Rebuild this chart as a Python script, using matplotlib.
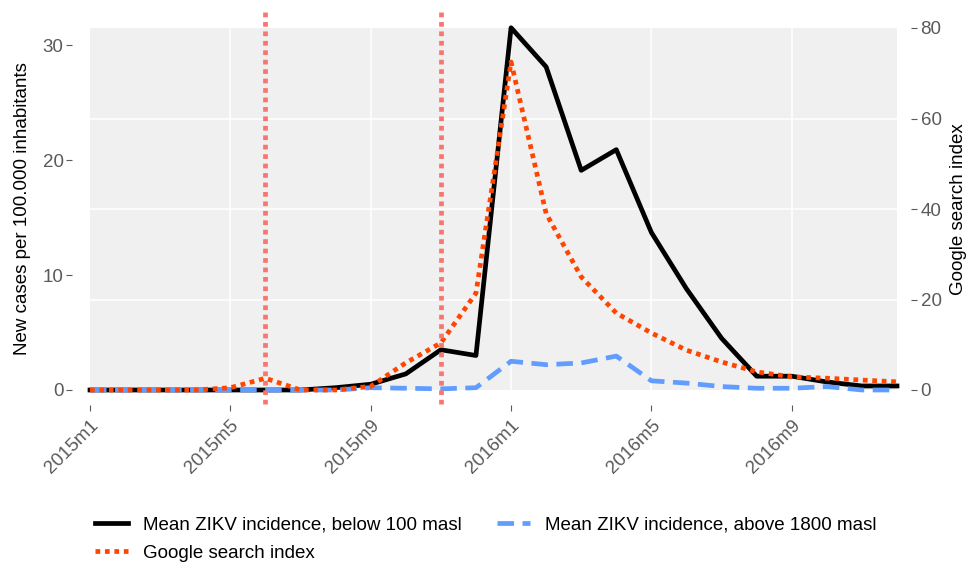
import matplotlib
matplotlib.use('Agg')
import matplotlib.pyplot as plt
import matplotlib.transforms as mtransforms
import numpy as np

plt.rcParams['font.family'] = ['Liberation Sans', 'DejaVu Sans']

months = ['2015m1', '2015m2', '2015m3', '2015m4', '2015m5', '2015m6', '2015m7', '2015m8',
          '2015m9', '2015m10', '2015m11', '2015m12', '2016m1', '2016m2', '2016m3', '2016m4',
          '2016m5', '2016m6', '2016m7', '2016m8', '2016m9', '2016m10', '2016m11', '2016m12']
tick_labels = ['2015m1', '2015m5', '2015m9', '2016m1', '2016m5', '2016m9']

# incidence per 100.000 (left axis)
below_100 = [0, 0, 0, 0, 0, 0, 0, 0.2, 0.5, 1.4, 3.5, 3.0,
             31.5, 28.1, 19.1, 20.9, 13.7, 8.8, 4.5, 1.2, 1.2, 0.7, 0.35, 0.35]
above_1800 = [0, 0, 0, 0, 0, 0, 0, 0, 0.2, 0.15, 0.1, 0.2,
              2.5, 2.2, 2.35, 2.95, 0.8, 0.6, 0.3, 0.15, 0.15, 0.3, 0, 0]
# google search index (right axis)
google = [0, 0, 0, 0, 0.5, 2.6, 0, 0, 0.8, 6.0, 10.4, 21.4,
          72.5, 39, 25, 17, 12.6, 8.8, 6.2, 4.0, 2.9, 2.6, 2.2, 1.8]
event_months = ['2015m6', '2015m11']

x = np.arange(len(months))
grey = '#5a5a5a'
fs = 13.5
ltop, rtop = 31.48, 80

fig = plt.figure(figsize=(9.73, 5.62), dpi=100)
ax = fig.add_axes([90 / 973, 1 - 390 / 562, 807 / 973, 362 / 562])
ax.set_facecolor('#f0f0f0')
ax2 = ax.twinx()

ax.set_xlim(0, len(months) - 1)
ax.set_ylim(0, ltop)
ax2.set_ylim(0, rtop)

# white grid follows the right axis ticks
for v in [20, 40, 60]:
    ax.axhline(v * ltop / rtop, color='white', lw=1.1, zorder=0)
for m in tick_labels[1:]:
    ax.axvline(months.index(m), color='white', lw=1.1, zorder=0)

l_below, = ax.plot(x, below_100, color='black', lw=3.4, clip_on=False, zorder=3)
l_above, = ax.plot(x, above_1800, color='#619cff', lw=3.4, ls=(0, (3.5, 1.8)),
                   clip_on=False, zorder=4)
l_google, = ax2.plot(x, google, color='#ff4500', lw=3.4, ls=(0, (1, 1)), clip_on=False, zorder=5)

trans = mtransforms.blended_transform_factory(ax2.transData, ax2.transAxes)
for m in event_months:
    ax2.plot([months.index(m)] * 2, [-0.039, 1.044], transform=trans, color='#f8766d',
             lw=3.4, ls=(0, (1, 1)), clip_on=False, zorder=6)

ax.set_xticks([months.index(m) for m in tick_labels])
ax.set_xticklabels(tick_labels)
ax.set_yticks([0, 10, 20, 30])
ax2.set_yticks([0, 20, 40, 60, 80])

for a in (ax, ax2):
    for s in a.spines.values():
        s.set_visible(False)
    a.tick_params(colors=grey, labelsize=fs, length=4, width=0.8, pad=2)
ax.spines['left'].set_position(('outward', 13))
ax.spines['bottom'].set_position(('outward', 11))
ax2.spines['right'].set_position(('outward', 10))
ax2.tick_params(axis='y', pad=3)

ax.tick_params(axis='x', labelrotation=45, pad=4)
for lab in ax.get_xticklabels():
    lab.set_ha('right')
    lab.set_rotation_mode('anchor')

ax.set_ylabel('New cases per 100.000 inhabitants', fontsize=fs, labelpad=8)
ax2.set_ylabel('Google search index', fontsize=fs, labelpad=6)

labels = ['Mean ZIKV incidence, below 100 masl', 'Google search index',
          'Mean ZIKV incidence, above 1800 masl']
fig.legend([l_below, l_google, l_above], labels, ncol=2,
           loc='upper left', bbox_to_anchor=(95 / 973, 1 - 516 / 562), frameon=False,
           fontsize=fs, handlelength=1.75, handletextpad=0.8, columnspacing=1.9,
           labelspacing=0.6, borderaxespad=0, borderpad=0)

fig.savefig('out.png', dpi=100)
